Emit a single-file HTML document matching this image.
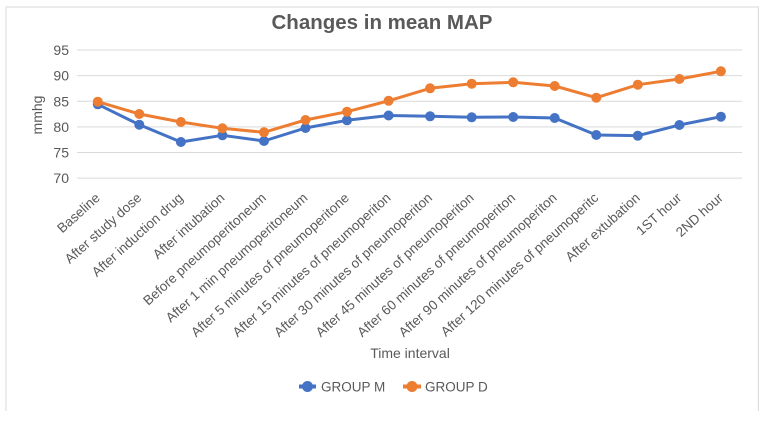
<!DOCTYPE html>
<html><head><meta charset="utf-8"><style>
html,body{margin:0;padding:0;background:#fff;}
svg{display:block;font-family:"Liberation Sans",sans-serif;}
</style></head><body>
<svg width="779" height="425" viewBox="0 0 779 425" xmlns="http://www.w3.org/2000/svg">
<rect x="0" y="0" width="779" height="425" fill="#fff"/>
<polyline points="6,411 6,7 758.3,7 758.3,411" fill="none" stroke="#d9d9d9" stroke-width="1"/>
<text x="382" y="29" text-anchor="middle" font-size="20.5" font-weight="bold" fill="#595959">Changes in mean MAP</text>
<g stroke="#d9d9d9" stroke-width="1">
<line x1="77" x2="742" y1="50" y2="50"/>
<line x1="77" x2="742" y1="75.6" y2="75.6"/>
<line x1="77" x2="742" y1="101.3" y2="101.3"/>
<line x1="77" x2="742" y1="126.9" y2="126.9"/>
<line x1="77" x2="742" y1="152.5" y2="152.5"/>
<line x1="77" x2="742" y1="178.1" y2="178.1"/>
</g>
<g font-size="14" fill="#595959" text-anchor="end">
<text x="69" y="55">95</text>
<text x="69" y="80.6">90</text>
<text x="69" y="106.3">85</text>
<text x="69" y="131.9">80</text>
<text x="69" y="157.5">75</text>
<text x="69" y="183.1">70</text>
</g>
<text transform="translate(42,115) rotate(-90)" text-anchor="middle" font-size="14" fill="#595959">mmhg</text>
<g font-size="13.5" fill="#595959" text-anchor="end">
<text transform="translate(100.8,199) rotate(-42)">Baseline</text>
<text transform="translate(142.3,199) rotate(-42)">After study dose</text>
<text transform="translate(183.9,199) rotate(-42)">After induction drug</text>
<text transform="translate(225.4,199) rotate(-42)">After intubation</text>
<text transform="translate(267,199) rotate(-42)">Before pneumoperitoneum</text>
<text transform="translate(308.5,199) rotate(-42)">After 1 min pneumoperitoneum</text>
<text transform="translate(350,199) rotate(-42)">After 5 minutes of pneumoperitone</text>
<text transform="translate(391.6,199) rotate(-42)">After 15 minutes of pneumoperiton</text>
<text transform="translate(433.1,199) rotate(-42)">After 30 minutes of pneumoperiton</text>
<text transform="translate(474.7,199) rotate(-42)">After 45 minutes of pneumoperiton</text>
<text transform="translate(516.2,199) rotate(-42)">After 60 minutes of pneumoperiton</text>
<text transform="translate(557.7,199) rotate(-42)">After 90 minutes of pneumoperiton</text>
<text transform="translate(599.3,199) rotate(-42)">After 120 minutes of pneumoperitc</text>
<text transform="translate(640.8,199) rotate(-42)">After extubation</text>
<text transform="translate(682.4,199) rotate(-42)">1ST hour</text>
<text transform="translate(723.9,199) rotate(-42)">2ND hour</text>
</g>
<text x="410" y="358" text-anchor="middle" font-size="14" fill="#595959">Time interval</text>
<polyline fill="none" stroke="#4472C4" stroke-width="3" stroke-linejoin="round" points="97.8,104.3 139.3,124.7 180.9,142 222.4,135.3 264,141 305.5,128 347,120.3 388.6,115.5 430.1,116.3 471.7,117.3 513.2,117 554.7,118 596.3,135 637.8,135.7 679.4,125 720.9,116.7"/>
<g fill="#4472C4">
<circle cx="97.8" cy="104.3" r="5"/><circle cx="139.3" cy="124.7" r="5"/><circle cx="180.9" cy="142" r="5"/><circle cx="222.4" cy="135.3" r="5"/><circle cx="264" cy="141" r="5"/><circle cx="305.5" cy="128" r="5"/><circle cx="347" cy="120.3" r="5"/><circle cx="388.6" cy="115.5" r="5"/><circle cx="430.1" cy="116.3" r="5"/><circle cx="471.7" cy="117.3" r="5"/><circle cx="513.2" cy="117" r="5"/><circle cx="554.7" cy="118" r="5"/><circle cx="596.3" cy="135" r="5"/><circle cx="637.8" cy="135.7" r="5"/><circle cx="679.4" cy="125" r="5"/><circle cx="720.9" cy="116.7" r="5"/>
</g>
<polyline fill="none" stroke="#ED7D31" stroke-width="3" stroke-linejoin="round" points="97.8,101.7 139.3,114 180.9,122 222.4,128.3 264,132.3 305.5,120 347,111.7 388.6,100.8 430.1,88.3 471.7,83.7 513.2,82.3 554.7,86 596.3,97.7 637.8,84.7 679.4,79 720.9,71.3"/>
<g fill="#ED7D31">
<circle cx="97.8" cy="101.7" r="5"/><circle cx="139.3" cy="114" r="5"/><circle cx="180.9" cy="122" r="5"/><circle cx="222.4" cy="128.3" r="5"/><circle cx="264" cy="132.3" r="5"/><circle cx="305.5" cy="120" r="5"/><circle cx="347" cy="111.7" r="5"/><circle cx="388.6" cy="100.8" r="5"/><circle cx="430.1" cy="88.3" r="5"/><circle cx="471.7" cy="83.7" r="5"/><circle cx="513.2" cy="82.3" r="5"/><circle cx="554.7" cy="86" r="5"/><circle cx="596.3" cy="97.7" r="5"/><circle cx="637.8" cy="84.7" r="5"/><circle cx="679.4" cy="79" r="5"/><circle cx="720.9" cy="71.3" r="5"/>
</g>
<line x1="299" y1="386.5" x2="316" y2="386.5" stroke="#4472C4" stroke-width="4"/>
<circle cx="307.5" cy="386.5" r="5.5" fill="#4472C4"/>
<text x="321" y="391.5" font-size="13.5" fill="#595959">GROUP M</text>
<line x1="403" y1="386.5" x2="421" y2="386.5" stroke="#ED7D31" stroke-width="4"/>
<circle cx="412" cy="386.5" r="5.5" fill="#ED7D31"/>
<text x="425" y="391.5" font-size="13.5" fill="#595959">GROUP D</text>
</svg>
</body></html>
